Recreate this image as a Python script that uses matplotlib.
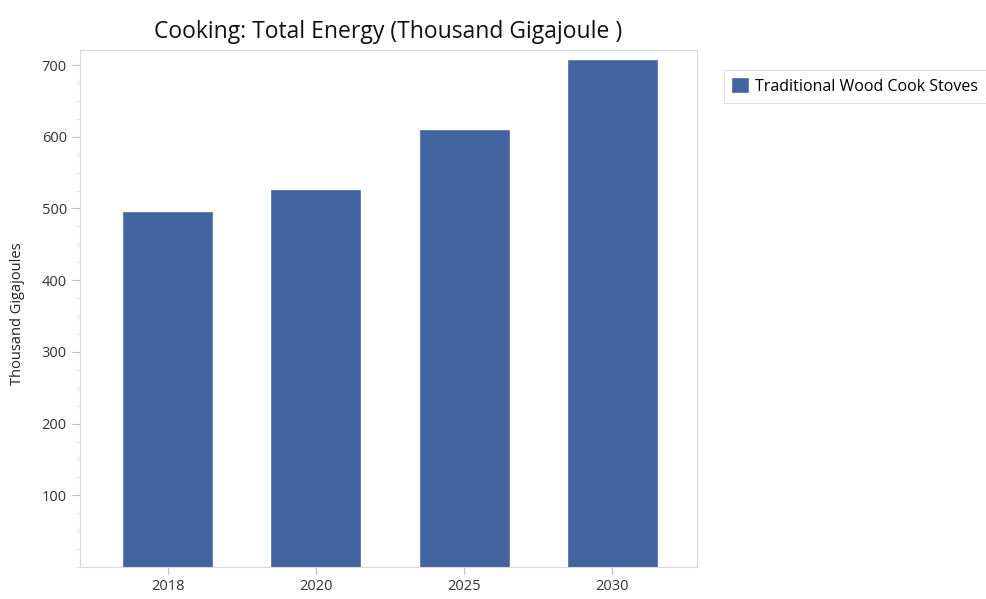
import matplotlib.pyplot as plt
from matplotlib.ticker import MultipleLocator

years = ["2018", "2020", "2025", "2030"]
energy = [495, 526, 610, 707]
series_name = "Traditional Wood Cook Stoves"

plt.rcParams["font.family"] = ["Open Sans", "DejaVu Sans"]

fig = plt.figure(figsize=(9.87, 5.99), dpi=100)
ax = fig.add_axes([0.0811, 0.0534, 0.6251, 0.8631])

x = list(range(len(years)))
ax.bar(x, energy, width=0.6, color="#4264A0", edgecolor="#5A78B0",
       linewidth=0.6, label=series_name)

ax.set_xlim(-0.59, 3.57)
ax.set_ylim(0, 721)
ax.set_xticks(x)
ax.set_xticklabels(years)
ax.yaxis.set_major_locator(MultipleLocator(100))
ax.yaxis.set_minor_locator(MultipleLocator(25))
ax.set_yticks([100, 200, 300, 400, 500, 600, 700])

for s in ax.spines.values():
    s.set_color("#D9D9D9")
ax.tick_params(axis="both", colors="#BFBFBF", labelcolor="#333333",
               labelsize=10.5)
ax.tick_params(axis="y", which="major", length=6)
ax.tick_params(axis="y", which="minor", length=3, color="#E0E0E0")
ax.tick_params(axis="x", length=5)

ax.set_ylabel("Thousand Gigajoules", fontsize=10.5, color="#222222")
ax.yaxis.set_label_coords(-0.09, 0.49)
ax.set_title("Cooking: Total Energy (Thousand Gigajoule )", fontsize=16.5,
             color="#111111", pad=9)

leg = ax.legend(loc="upper left", bbox_to_anchor=(1.043, 0.961),
                borderaxespad=0, frameon=True, fancybox=False, fontsize=11.5,
                handlelength=1.0, handleheight=1.0, borderpad=0.5,
                handletextpad=0.5)
leg.get_frame().set_edgecolor("#D9D9D9")
leg.get_frame().set_linewidth(0.8)

fig.savefig("out.png", dpi=100)
